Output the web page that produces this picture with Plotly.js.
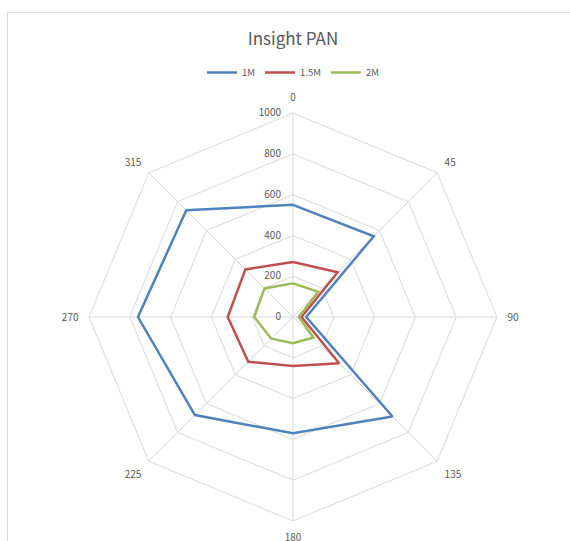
<!DOCTYPE html>
<html>
<head>
<meta charset="utf-8">
<script src="https://cdn.plot.ly/plotly-3.0.1.min.js"></script>
<style>
  html, body { margin: 0; padding: 0; background: #fff; }
  #frame { position: absolute; left: 7px; top: 12px; width: 600px; height: 600px; border-left: 1px solid #d9d9d9; border-top: 1px solid #d9d9d9; }
  #chart { position: absolute; left: 0; top: 0; width: 570px; height: 541px; }
</style>
</head>
<body>
<div id="frame"></div>
<div id="chart"></div>
<script>
const categories = ["0", "45", "90", "135", "180", "225", "270", "315"];
const seriesNames = ["1M", "1.5M", "2M"];
const values1M  = [550, 560, 65, 690, 570, 680, 760, 740];
const values15M = [270, 310, 42, 320, 240, 310, 320, 330];
const values2M  = [165, 175, 28, 142, 128, 150, 190, 198];
const colors = ["#4F81BD", "#C0504D", "#9BBB59"];
const radialTicks = [0, 200, 400, 600, 800, 1000];

function closeLoop(arr) { return arr.concat([arr[0]]); }

const allValues = [values1M, values15M, values2M];
const traces = allValues.map((v, i) => ({
  type: "scatterpolar",
  mode: "lines",
  name: seriesNames[i],
  r: closeLoop(v),
  theta: closeLoop(categories),
  line: { color: colors[i], width: 2.5 }
}));

const layout = {
  width: 570,
  height: 541,
  margin: { l: 0, r: 0, t: 0, b: 0 },
  paper_bgcolor: "rgba(0,0,0,0)",
  plot_bgcolor: "rgba(0,0,0,0)",
  font: { family: "Noto Sans CJK KR, Noto Sans, sans-serif", color: "#595959", size: 10 },
  title: {
    text: "Insight PAN",
    x: 0.514, xanchor: "center",
    y: 0.928, yanchor: "middle",
    font: { size: 17, color: "#595959" }
  },
  showlegend: true,
  legend: {
    orientation: "h",
    x: 0.514, xanchor: "center",
    y: 0.866, yanchor: "middle",
    font: { size: 9.5, color: "#595959" },
    itemwidth: 30,
    tracegroupgap: 0
  },
  polar: {
    domain: { x: [0.156, 0.872], y: [0.037, 0.791] },
    bgcolor: "rgba(0,0,0,0)",
    gridshape: "linear",
    angularaxis: {
      type: "category",
      direction: "clockwise",
      rotation: 90,
      showline: true,
      linecolor: "#d9d9d9",
      linewidth: 1,
      gridcolor: "#d9d9d9",
      gridwidth: 1,
      ticks: "outside",
      ticklen: 8,
      tickcolor: "rgba(0,0,0,0)",
      tickfont: { size: 10, color: "#595959" }
    },
    radialaxis: {
      range: [0, 1000],
      tickvals: radialTicks,
      ticktext: radialTicks.map(String),
      angle: 90,
      tickangle: 90,
      side: "counterclockwise",
      showline: false,
      ticks: "outside",
      ticklen: 8,
      tickcolor: "rgba(0,0,0,0)",
      gridcolor: "#d9d9d9",
      gridwidth: 1,
      tickfont: { size: 10, color: "#595959" }
    }
  }
};

Plotly.newPlot("chart", traces, layout, { displayModeBar: false, staticPlot: true });
</script>
</body>
</html>
